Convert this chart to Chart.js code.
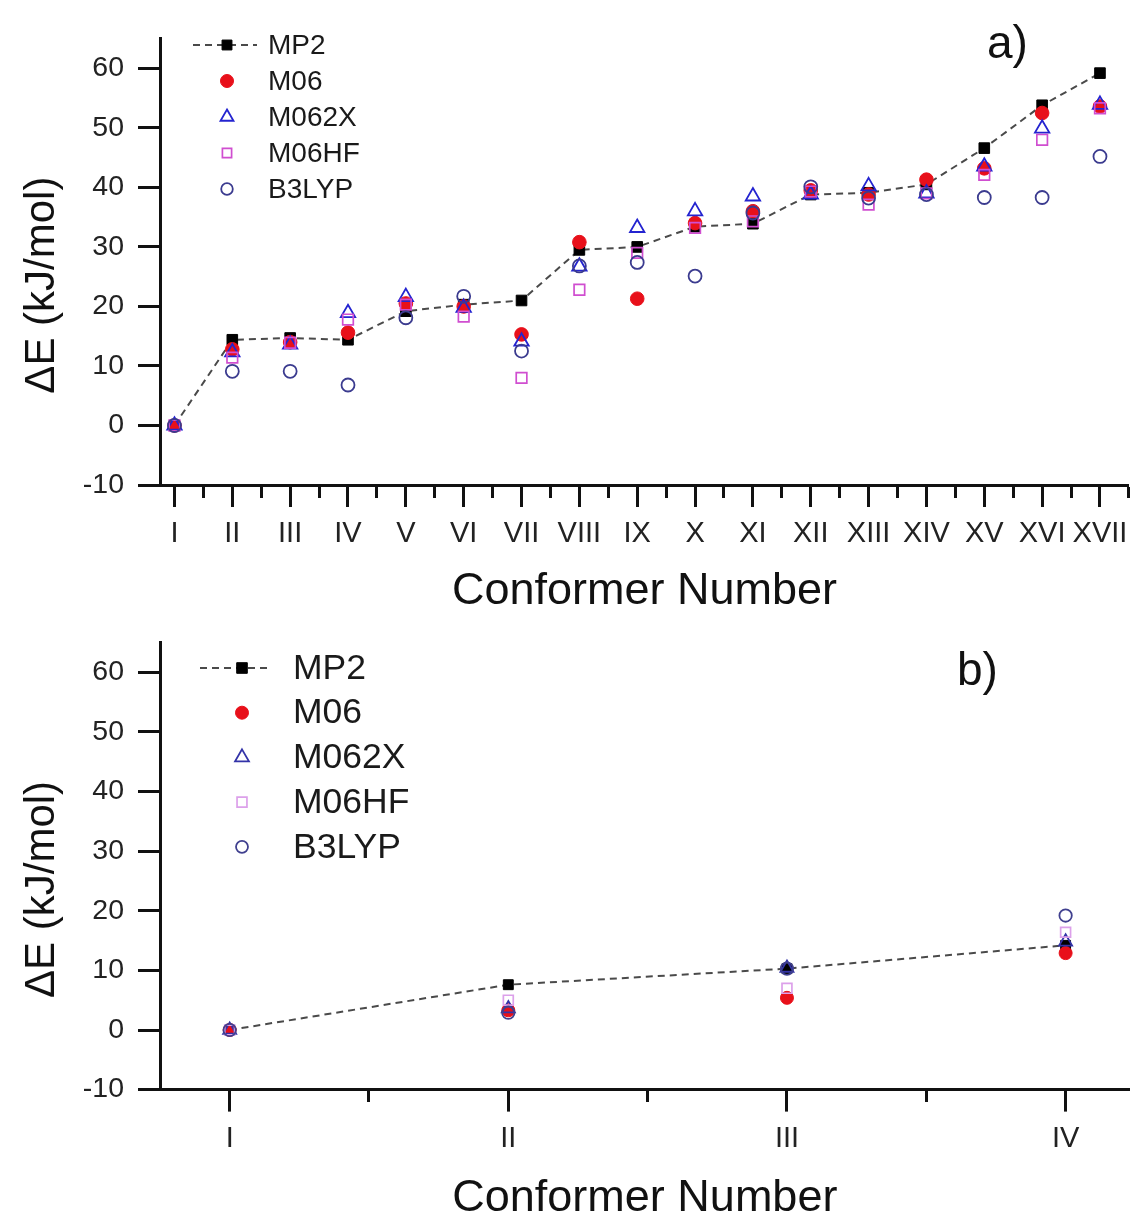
<!DOCTYPE html>
<html><head><meta charset="utf-8">
<script src="https://cdn.jsdelivr.net/npm/chart.js@4.4.1/dist/chart.umd.min.js"></script>
<style>
html,body{margin:0;padding:0;background:#fff;}
#wrap{position:relative;width:1139px;height:1214px;background:#fff;}
canvas{position:absolute;left:0;}
</style></head><body>
<div id="wrap">
<canvas id="ca" width="1139" height="607" style="top:0;width:1139px;height:607px"></canvas>
<canvas id="cb" width="1139" height="607" style="top:607px;width:1139px;height:607px"></canvas>
</div>
<script>
// ---- Panel a) data ----
const categoriesA = ['I','II','III','IV','V','VI','VII','VIII','IX','X','XI','XII','XIII','XIV','XV','XVI','XVII'];
const mp2A   = [0, 14.4, 14.7, 14.4, 19.2, 20.3, 21.0, 29.5, 30.0, 33.4, 33.9, 38.8, 39.1, 40.5, 46.6, 53.8, 59.2];
const m06A   = [0, 12.8, 14.0, 15.6, 20.5, 20.0, 15.3, 30.8, 21.3, 34.0, 36.0, 39.5, 38.8, 41.3, 43.2, 52.5, 53.6];
const m062xA = [0, 12.3, 13.6, 18.9, 21.6, 19.8, 14.1, 26.7, 33.2, 36.0, 38.5, 38.8, 40.2, 39.0, 43.5, 49.9, 53.9];
const m06hfA = [0, 11.4, 13.9, 17.8, 20.3, 18.3, 8.0, 22.8, 29.0, 33.2, 34.3, 39.3, 37.1, 39.0, 42.1, 48.0, 53.3];
const b3lypA = [0, 9.1, 9.1, 6.8, 18.1, 21.7, 12.5, 26.8, 27.4, 25.1, 35.7, 40.1, 38.2, 38.8, 38.3, 38.3, 45.2];

// ---- Panel b) data ----
const categoriesB = ['I','II','III','IV'];
const mp2B   = [0, 7.6, 10.3, 14.2];
const m06B   = [0, 3.3, 5.4, 12.9];
const m062xB = [0, 3.6, 10.4, 14.8];
const m06hfB = [0, 5.0, 7.0, 16.4];
const b3lypB = [0, 2.9, 10.3, 19.2];

const seriesNames = ['MP2','M06','M062X','M06HF','B3LYP'];
const yTicksMin = -10, yTicksMax = 65;

const FONT = "'Liberation Sans', Arial, Helvetica, sans-serif";
function isHalf(v){ return Math.abs(v*2 - Math.round(v*2)) < 1e-6; }
function isInt(v){ return Math.abs(v - Math.round(v)) < 1e-6; }

const legendPlugin = {
  id: 'customLegend',
  afterDraw(chart, args, o) {
    const ctx = chart.ctx;
    ctx.save();
    chart.data.datasets.forEach((ds, i) => {
      const y = o.y0 + i * o.dy;
      if (i === 0) {
        ctx.beginPath();
        ctx.setLineDash(ds.borderDash);
        ctx.strokeStyle = ds.borderColor;
        ctx.lineWidth = ds.borderWidth;
        ctx.moveTo(o.lx1, y); ctx.lineTo(o.lx2, y);
        ctx.stroke();
        ctx.setLineDash([]);
      }
      ctx.fillStyle = ds.pointBackgroundColor;
      ctx.strokeStyle = ds.pointBorderColor;
      ctx.lineWidth = ds.pointBorderWidth;
      Chart.helpers.drawPoint(ctx, {pointStyle: ds.pointStyle, radius: o.radii[i], rotation: 0, borderWidth: ds.pointBorderWidth}, o.mx, y);
      ctx.fillStyle = '#1a1a1a';
      ctx.font = o.size + 'px ' + FONT;
      ctx.textAlign = 'left';
      ctx.textBaseline = 'middle';
      ctx.fillText(ds.label, o.tx, y + 1);
    });
    ctx.font = o.panelSize + 'px ' + FONT;
    ctx.textBaseline = 'alphabetic';
    ctx.fillStyle = '#111';
    ctx.fillText(o.panel, o.px, o.py);
    ctx.restore();
  }
};

function buildChart(id, p) {
  const pts = arr => arr.map((y, i) => ({x: i + 1, y}));
  const datasets = [
    {label: seriesNames[0], data: pts(p.mp2), showLine: true, borderColor: '#4a4a4a', borderWidth: 2, borderDash: [7,5],
     pointStyle: 'rect', pointRadius: p.r[0], pointBackgroundColor: '#000', pointBorderColor: '#000', pointBorderWidth: 1, order: 5},
    {label: seriesNames[1], data: pts(p.m06), showLine: false, pointStyle: 'circle', pointRadius: p.r[1],
     pointBackgroundColor: p.c[1], pointBorderColor: p.c[1], pointBorderWidth: 1, order: 4},
    {label: seriesNames[2], data: pts(p.m062x), showLine: false, pointStyle: 'triangle', pointRadius: p.r[2],
     pointBackgroundColor: 'rgba(0,0,0,0)', pointBorderColor: p.c[2], pointBorderWidth: 1.8, order: 3},
    {label: seriesNames[3], data: pts(p.m06hf), showLine: false, pointStyle: 'rect', pointRadius: p.r[3],
     pointBackgroundColor: 'rgba(0,0,0,0)', pointBorderColor: p.c[3], pointBorderWidth: 1.7, order: 2},
    {label: seriesNames[4], data: pts(p.b3lyp), showLine: false, pointStyle: 'circle', pointRadius: p.r[4],
     pointBackgroundColor: 'rgba(0,0,0,0)', pointBorderColor: p.c[4], pointBorderWidth: 1.8, order: 1}
  ];
  return new Chart(document.getElementById(id), {
    type: 'scatter',
    data: {datasets},
    plugins: [legendPlugin],
    options: {
      responsive: false, animation: false, events: [], devicePixelRatio: 1,
      layout: {padding: {top: p.padTop, left: 0, right: p.padRight, bottom: 0}},
      plugins: {legend: {display: false}, tooltip: {enabled: false}, customLegend: p.legend},
      scales: {
        x: {
          type: 'linear', min: p.xmin, max: p.xmax,
          afterFit(s) { s.height = p.xAxisH; },
          border: {display: true, color: '#111', width: 3},
          grid: {display: true, drawOnChartArea: false, drawTicks: true, tickLength: 22, tickWidth: 3,
            tickColor: c => (c.tick && isHalf(c.tick.value)) ? '#111' : 'rgba(0,0,0,0)',
            tickBorderDash: c => (c.tick && isInt(c.tick.value)) ? [] : [11, 40]},
          ticks: {stepSize: 0.5, includeBounds: false, autoSkip: false, maxRotation: 0, minRotation: 0, padding: 10, color: '#222',
            font: {family: FONT, size: 29},
            callback: v => isInt(v) ? (p.cats[Math.round(v) - 1] || '') : ''},
          title: {display: true, text: 'Conformer Number', color: '#111',
            font: {family: FONT, size: 45, lineHeight: 1}, padding: {top: 0, bottom: -7}}
        },
        y: {
          type: 'linear', min: yTicksMin, max: yTicksMax,
          afterFit(s) { s.width = 160; },
          border: {display: true, color: '#111', width: 3},
          grid: {display: true, drawOnChartArea: false, drawTicks: true, tickLength: 22, tickWidth: 3,
            tickColor: '#111',
            tickBorderDash: c => (c.tick && Math.round(c.tick.value) % 10 === 0) ? [] : [0, 11, 40]},
          ticks: {stepSize: 5, padding: 14, color: '#222', font: {family: FONT, size: 28.5},
            callback: v => (Math.round(v) % 10 === 0) ? String(v) : ''},
          title: {display: true, text: 'ΔE (kJ/mol)    ', color: '#111',
            font: {family: FONT, size: 42, lineHeight: 1}, padding: {top: 21, bottom: 0}}
        }
      }
    }
  });
}

buildChart('ca', {
  cats: categoriesA, mp2: mp2A, m06: m06A, m062x: m062xA, m06hf: m06hfA, b3lyp: b3lypA,
  xmin: 0.75, xmax: 17.5, padTop: 38.6, padRight: 6, xAxisH: 122,
  r: [7.5, 6.8, 8.3, 7.5, 6.5],
  c: ['#000', '#e8101a', '#2424d0', '#d04ed0', '#3b3b8f'],
  legend: {lx1: 193, lx2: 257, mx: 227, tx: 268, y0: 45, dy: 36, size: 28, radii: [7, 6.5, 7.5, 6.5, 5.8],
           panel: 'a)', px: 987, py: 58, panelSize: 46}
});

buildChart('cb', {
  cats: categoriesB, mp2: mp2B, m06: m06B, m062x: m062xB, m06hf: m06hfB, b3lyp: b3lypB,
  xmin: 0.75, xmax: 4.23, padTop: 35.6, padRight: 9, xAxisH: 124.4,
  r: [7, 6.5, 7.5, 7, 6.2],
  c: ['#000', '#e8101a', '#3333a8', '#dca0ea', '#40408f'],
  legend: {lx1: 200, lx2: 272, mx: 242, tx: 293, y0: 61, dy: 44.7, size: 35.5, radii: [7.5, 6.5, 8, 7, 6],
           panel: 'b)', px: 957, py: 78, panelSize: 46}
});
</script>
</body></html>
